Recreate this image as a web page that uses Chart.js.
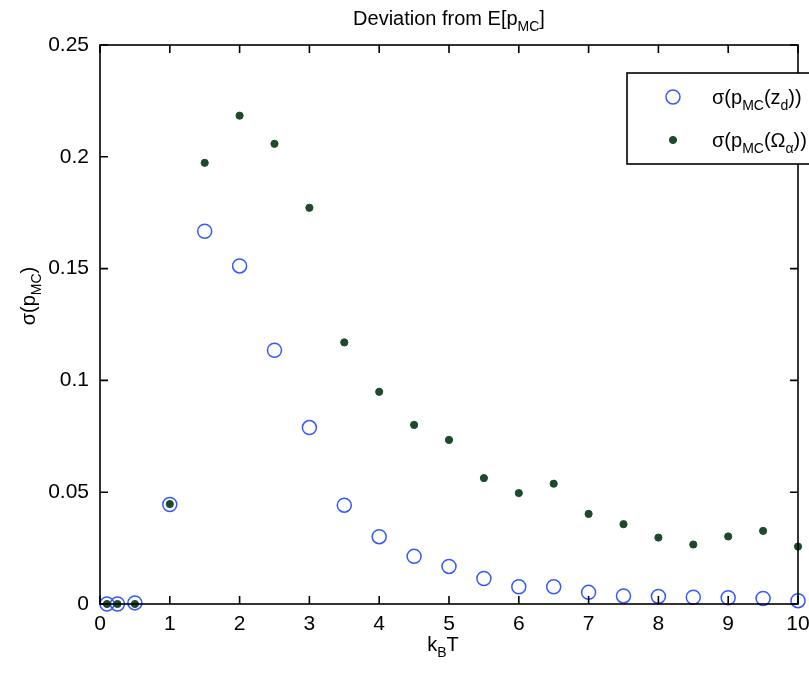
<!DOCTYPE html>
<html>
<head>
<meta charset="utf-8">
<script src="https://cdn.jsdelivr.net/npm/chart.js@4"></script>
<style>
html, body { margin: 0; padding: 0; background: #fff; }
#wrap { width: 809px; height: 675px; }
</style>
</head>
<body>
<div id="wrap"><canvas id="mycanvas" width="809" height="675"></canvas></div>
<script>
// temperature points (k_B T)
var kT = [0.1, 0.25, 0.5, 1, 1.5, 2, 2.5, 3, 3.5, 4, 4.5, 5, 5.5, 6, 6.5, 7, 7.5, 8, 8.5, 9, 9.5, 10];
// sigma(p_MC(z_d))
var sigmaZd = [0, 0, 0.0005, 0.0445, 0.1667, 0.1512, 0.1135, 0.0789, 0.0442, 0.0301, 0.0213, 0.0168, 0.0114, 0.0077, 0.0077, 0.0052, 0.0036, 0.0034, 0.003, 0.0028, 0.0025, 0.0015];
// sigma(p_MC(Omega_alpha))
var sigmaOmega = [0, 0, 0, 0.0447, 0.1973, 0.2184, 0.2058, 0.1772, 0.117, 0.0949, 0.0801, 0.0734, 0.0563, 0.0496, 0.0538, 0.0403, 0.0357, 0.0297, 0.0266, 0.0302, 0.0327, 0.0257];
var xTicks = [0, 1, 2, 3, 4, 5, 6, 7, 8, 9, 10];
var yTicks = [0, 0.05, 0.1, 0.15, 0.2, 0.25];

var FONT = '"Liberation Sans", Arial, sans-serif';
var FS = 20;
var TICK_FS = 21;

function toPoints(xs, ys) {
  var out = [];
  for (var i in xs) out.push({x: xs[i], y: ys[i]});
  return out;
}

// text with subscripts: parts = [[text, isSub], ...]
function drawRich(ctx, parts, x, y, size, align) {
  var w = 0;
  parts.forEach(function(p) {
    ctx.font = (p[1] ? Math.round(size * 0.72) : size) + 'px ' + FONT;
    w += ctx.measureText(p[0]).width;
  });
  var cx = align === 'center' ? x - w / 2 : x;
  ctx.textAlign = 'left';
  ctx.textBaseline = 'alphabetic';
  parts.forEach(function(p) {
    ctx.font = (p[1] ? Math.round(size * 0.72) : size) + 'px ' + FONT;
    ctx.fillText(p[0], cx, p[1] ? y + size * 0.32 : y);
    cx += ctx.measureText(p[0]).width;
  });
}

var frame = {
  id: 'frame',
  afterDraw: function(chart) {
    var ctx = chart.ctx, a = chart.chartArea;
    var xs = chart.scales.x, ys = chart.scales.y;
    ctx.save();
    ctx.strokeStyle = '#000';
    ctx.fillStyle = '#000';
    ctx.lineWidth = 1.6;
    ctx.strokeRect(a.left, a.top, a.right - a.left, a.bottom - a.top);
    // inward ticks on all four sides
    var tl = 8;
    ctx.beginPath();
    xTicks.forEach(function(v) {
      var px = xs.getPixelForValue(v);
      ctx.moveTo(px, a.bottom); ctx.lineTo(px, a.bottom - tl);
      ctx.moveTo(px, a.top); ctx.lineTo(px, a.top + tl);
    });
    yTicks.forEach(function(v) {
      var py = ys.getPixelForValue(v);
      ctx.moveTo(a.left, py); ctx.lineTo(a.left + tl, py);
      ctx.moveTo(a.right, py); ctx.lineTo(a.right - tl, py);
    });
    ctx.stroke();

    // title and axis labels
    drawRich(ctx, [['Deviation from E[p'], ['MC', 1], [']']], (a.left + a.right) / 2, 25, FS, 'center');
    drawRich(ctx, [['k'], ['B', 1], ['T']], (a.left + a.right) / 2 - 6, 651, FS, 'center');
    ctx.save();
    ctx.translate(35, 296);
    ctx.rotate(-Math.PI / 2);
    drawRich(ctx, [['\u03c3(p'], ['MC', 1], [')']], 0, 0, FS, 'center');
    ctx.restore();

    // legend box
    var lx = 627, ly = 73;
    ctx.fillStyle = '#fff';
    ctx.fillRect(lx, ly, 200, 91);
    ctx.lineWidth = 1.6;
    ctx.strokeRect(lx, ly, 200, 91);
    var ds = chart.data.datasets;
    var labels = [
      [['\u03c3(p'], ['MC', 1], ['(z'], ['d', 1], ['))']],
      [['\u03c3(p'], ['MC', 1], ['(\u03a9'], ['\u03b1', 1], ['))']]
    ];
    [0, 1].forEach(function(i) {
      var my = ly + 24 + i * 43;
      ctx.beginPath();
      ctx.arc(673, my, ds[i].pointRadius, 0, Math.PI * 2);
      if (ds[i].pointBackgroundColor !== 'transparent') {
        ctx.fillStyle = ds[i].pointBackgroundColor;
        ctx.fill();
      }
      ctx.lineWidth = ds[i].pointBorderWidth;
      ctx.strokeStyle = ds[i].pointBorderColor;
      ctx.stroke();
      ctx.fillStyle = '#000';
      drawRich(ctx, labels[i], 712, my + 7, FS, 'left');
    });
    ctx.restore();
  }
};

var ctx = document.getElementById('mycanvas');
var chart = new Chart(ctx, {
  type: 'scatter',
  data: {
    datasets: [
      {
        label: 'zd',
        data: toPoints(kT, sigmaZd),
        pointStyle: 'circle',
        pointRadius: 7,
        pointBorderWidth: 1.5,
        pointBorderColor: '#3358ff',
        pointBackgroundColor: 'transparent',
        clip: false,
        order: 1
      },
      {
        label: 'omega',
        data: toPoints(kT, sigmaOmega),
        pointStyle: 'circle',
        pointRadius: 3.6,
        pointBorderWidth: 1,
        pointBorderColor: '#1d4a2a',
        pointBackgroundColor: '#1d4a2a',
        clip: false,
        order: 0
      }
    ]
  },
  options: {
    responsive: false,
    animation: false,
    events: [],
    layout: { autoPadding: false, padding: { top: 45, right: 11, left: 0, bottom: 0 } },
    plugins: { legend: { display: false }, tooltip: { enabled: false }, title: { display: false } },
    scales: {
      x: {
        type: 'linear', min: 0, max: 10,
        afterFit: function(s) { s.height = 71; s.paddingLeft = 0; s.paddingRight = 0; },
        afterBuildTicks: function(s) { s.ticks = xTicks.map(function(v) { return {value: v}; }); },
        grid: { display: false, drawTicks: false },
        border: { display: false },
        ticks: { color: '#000', padding: 8, maxRotation: 0, font: { family: FONT, size: TICK_FS } }
      },
      y: {
        type: 'linear', min: 0, max: 0.25,
        afterFit: function(s) { s.width = 100; s.paddingTop = 0; s.paddingBottom = 0; },
        afterBuildTicks: function(s) { s.ticks = yTicks.map(function(v) { return {value: v}; }); },
        grid: { display: false, drawTicks: false },
        border: { display: false },
        ticks: {
          color: '#000', padding: 11, font: { family: FONT, size: TICK_FS },
          callback: function(v) { return String(+v.toFixed(2)); }
        }
      }
    }
  },
  plugins: [frame]
});
</script>
</body>
</html>
